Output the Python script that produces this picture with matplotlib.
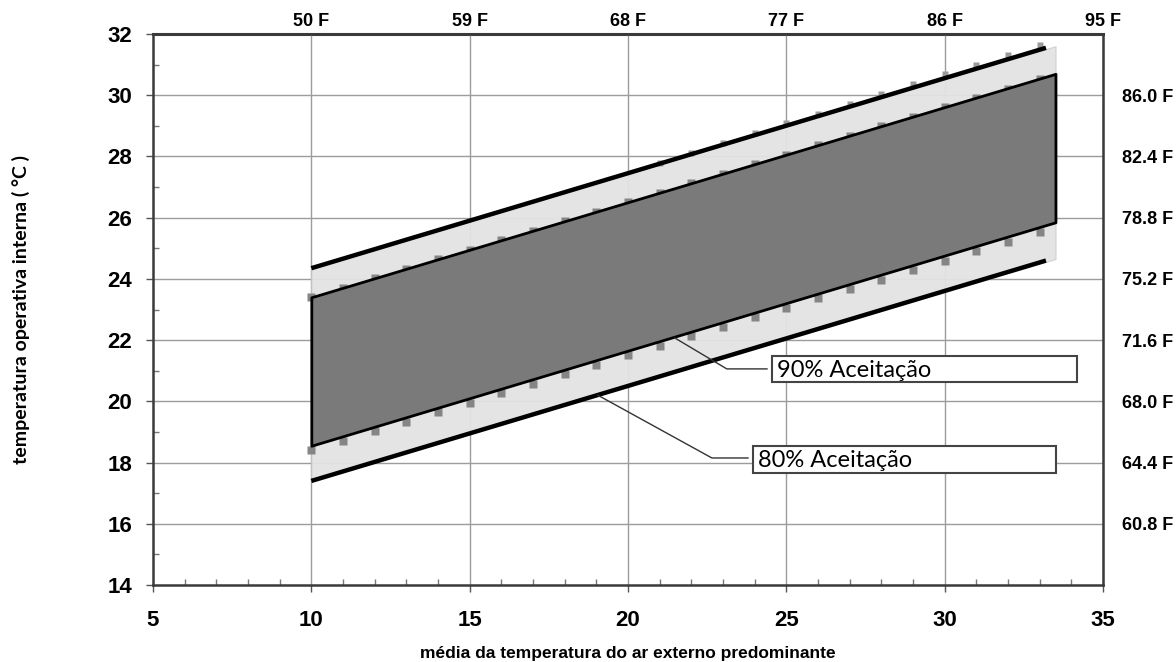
import numpy as np
import matplotlib
matplotlib.use('Agg')
import matplotlib.pyplot as plt
from matplotlib.patches import Rectangle

# data
band_x = [10, 33.5]
band90_low = [18.55, 25.85]
band90_high = [23.4, 30.7]
light_low = [17.4, 24.65]
light_high = [24.35, 31.6]
line80_x = [10, 33.2]
line80_low = [17.4, 24.6]
line80_high = [24.35, 31.55]

sq_x = [10, 11, 12, 13, 14, 15, 16, 17, 18, 19, 20, 21, 22, 23, 24, 25, 26, 27, 28, 29, 30, 31, 32, 33]
sq_up90 = [23.40, 23.71, 24.02, 24.33, 24.64, 24.95, 25.26, 25.57, 25.88, 26.19, 26.50, 26.81,
           27.12, 27.43, 27.74, 28.05, 28.36, 28.67, 28.98, 29.29, 29.60, 29.91, 30.22, 30.53]
sq_low90 = [18.40, 18.71, 19.02, 19.33, 19.64, 19.95, 20.26, 20.57, 20.88, 21.19, 21.50, 21.81,
            22.12, 22.43, 22.74, 23.05, 23.36, 23.67, 23.98, 24.29, 24.60, 24.91, 25.22, 25.53]
sq80_x = [21, 22, 23, 24, 25, 26, 27, 28, 29, 30, 31, 32, 33]
sq_up80 = [27.80, 28.12, 28.44, 28.76, 29.08, 29.40, 29.72, 30.04, 30.36, 30.68, 31.00, 31.32, 31.64]

x_ticks = [5, 10, 15, 20, 25, 30, 35]
y_ticks = [14, 16, 18, 20, 22, 24, 26, 28, 30, 32]
top_ticks = [10, 15, 20, 25, 30, 35]
top_labels = ['50 F', '59 F', '68 F', '77 F', '86 F', '95 F']
right_ticks = [16, 18, 20, 22, 24, 26, 28, 30]
right_labels = ['60.8 F', '64.4 F', '68.0 F', '71.6 F', '75.2 F', '78.8 F', '82.4 F', '86.0 F']

bold = dict(family='Liberation Sans', weight='bold')

fig = plt.figure(figsize=(11.76, 6.62), dpi=100)
ax = fig.add_axes([0.1301, 0.1163, 0.8078, 0.8323])
ax.set_xlim(5, 35)
ax.set_ylim(14, 32)

# grid
for gx in [10, 15, 20, 25, 30]:
    ax.axvline(gx, color='#9c9c9c', lw=1, zorder=1)
for gy in right_ticks:
    ax.axhline(gy, color='#9c9c9c', lw=1, zorder=1)

# bands
ax.fill_between(band_x, light_low, light_high, facecolor='#e3e3e3', edgecolor='#cfcfcf', lw=0.8, alpha=0.95, zorder=2)
ax.plot(sq_x, sq_low90, 's', color='#858585', ms=6, mec='none', zorder=3)
ax.plot(sq_x, sq_up90, 's', color='#858585', ms=6, mec='none', zorder=3)
ax.plot(sq80_x, sq_up80, 's', color='#9a9a9a', ms=5, mec='none', zorder=3)
ax.fill_between(band_x, band90_low, band90_high, facecolor='#7a7a7a', edgecolor='black', lw=2, zorder=4)
ax.plot(line80_x, line80_high, color='black', lw=3.2, solid_capstyle='butt', zorder=5)
ax.plot(line80_x, line80_low, color='black', lw=3.2, solid_capstyle='butt', zorder=5)

# callouts
ax.plot([21.48, 23.12, 24.39], [22.07, 21.06, 21.06], color='#333333', lw=1, zorder=6)
ax.add_patch(Rectangle((24.55, 20.63), 9.63, 0.85, fill=True, facecolor='white',
                       edgecolor='#444444', lw=1.5, zorder=6, clip_on=False))
ax.text(24.72, 21.02, '90% Aceitação', fontsize=17, family='Lato', va='center', zorder=7)

ax.plot([19.05, 22.65, 23.79], [20.2, 18.15, 18.15], color='#333333', lw=1, zorder=6)
ax.add_patch(Rectangle((23.95, 17.66), 9.56, 0.88, fill=True, facecolor='white',
                       edgecolor='#444444', lw=1.5, zorder=6, clip_on=False))
ax.text(24.12, 18.07, '80% Aceitação', fontsize=17, family='Lato', va='center', zorder=7)

# axes styling
for s in ax.spines.values():
    s.set_color('#3a3a3a')
    s.set_linewidth(1.8)
    s.set_zorder(8)
ax.set_xticks(x_ticks)
ax.set_yticks(y_ticks)
ax.set_xticks(np.arange(5, 36, 1), minor=True)
ax.set_yticks(np.arange(14, 33, 1), minor=True)
ax.tick_params(which='major', direction='out', length=5, width=1, color='#555555', pad=10)
ax.tick_params(which='minor', direction='in', length=4, width=1, color='#777777')
ax.tick_params(axis='x', which='major', pad=13)
for lab in ax.get_xticklabels() + ax.get_yticklabels():
    lab.set_fontproperties(bold)
    lab.set_fontsize(16)

top = ax.secondary_xaxis('top')
top.set_xticks(top_ticks)
top.set_xticklabels(top_labels, fontsize=13, **bold)
top.tick_params(length=0, pad=3)
top.spines['top'].set_linewidth(2.2)
top.spines['top'].set_color('#3a3a3a')

right = ax.secondary_yaxis('right')
right.set_yticks(right_ticks)
right.set_yticklabels(right_labels, fontsize=13, **bold)
right.tick_params(length=0, pad=14)

ax.set_xlabel('média da temperatura do ar externo predominante', fontsize=12.5,
              family='Liberation Sans', weight='bold', labelpad=11)
ax.set_ylabel('temperatura operativa interna ( °C )', fontsize=14,
              family='Lato', weight='bold', labelpad=56)

fig.savefig('out.png', dpi=100)
